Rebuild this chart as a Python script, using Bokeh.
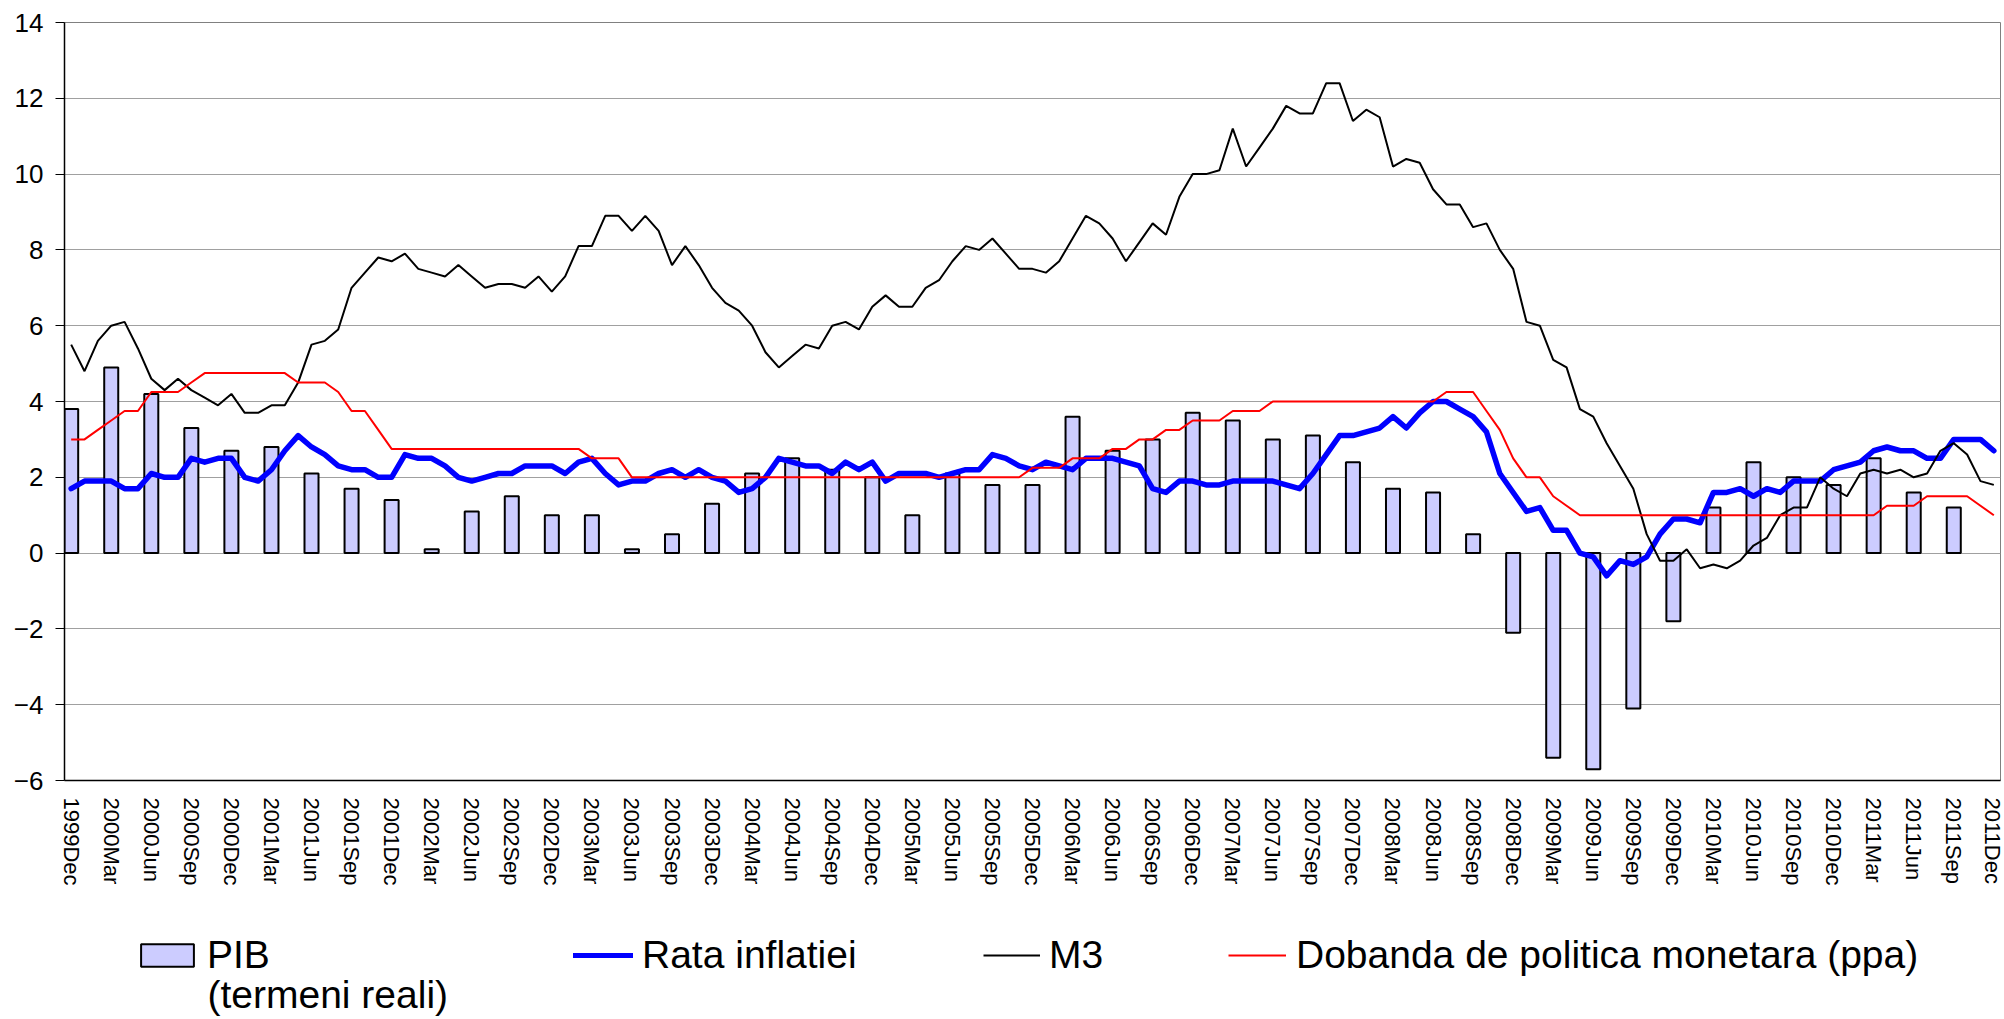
import numpy as np
from bokeh.plotting import figure
from bokeh.layouts import column
from bokeh.models import Range1d, FixedTicker, Legend, LegendItem, Label, ColumnDataSource
from bokeh.embed import file_html
from bokeh.resources import INLINE

# ---------------- data ----------------
tick_labels = [
    "1999Dec",
    "2000Mar", "2000Jun", "2000Sep", "2000Dec",
    "2001Mar", "2001Jun", "2001Sep", "2001Dec",
    "2002Mar", "2002Jun", "2002Sep", "2002Dec",
    "2003Mar", "2003Jun", "2003Sep", "2003Dec",
    "2004Mar", "2004Jun", "2004Sep", "2004Dec",
    "2005Mar", "2005Jun", "2005Sep", "2005Dec",
    "2006Mar", "2006Jun", "2006Sep", "2006Dec",
    "2007Mar", "2007Jun", "2007Sep", "2007Dec",
    "2008Mar", "2008Jun", "2008Sep", "2008Dec",
    "2009Mar", "2009Jun", "2009Sep", "2009Dec",
    "2010Mar", "2010Jun", "2010Sep", "2010Dec",
    "2011Mar", "2011Jun", "2011Sep", "2011Dec",
]

# quarterly real GDP growth (PIB), one value per tick label
pib = [3.8,
       4.9, 4.2, 3.3, 2.7,
       2.8, 2.1, 1.7, 1.4,
       0.1, 1.1, 1.5, 1.0,
       1.0, 0.1, 0.5, 1.3,
       2.1, 2.5, 2.2, 2.0,
       1.0, 2.1, 1.8, 1.8,
       3.6, 2.7, 3.0, 3.7,
       3.5, 3.0, 3.1, 2.4,
       1.7, 1.6, 0.5, -2.1,
       -5.4, -5.7, -4.1, -1.8,
       1.2, 2.4, 2.0, 1.8,
       2.5, 1.6, 1.2, float("nan")]

# monthly series, 1999Dec .. 2011Dec (145 months)
inflatie = [1.7,
    1.9, 1.9, 1.9, 1.7, 1.7, 2.1, 2.0, 2.0, 2.5, 2.4, 2.5, 2.5,
    2.0, 1.9, 2.2, 2.7, 3.1, 2.8, 2.6, 2.3, 2.2, 2.2, 2.0, 2.0,
    2.6, 2.5, 2.5, 2.3, 2.0, 1.9, 2.0, 2.1, 2.1, 2.3, 2.3, 2.3,
    2.1, 2.4, 2.5, 2.1, 1.8, 1.9, 1.9, 2.1, 2.2, 2.0, 2.2, 2.0,
    1.9, 1.6, 1.7, 2.0, 2.5, 2.4, 2.3, 2.3, 2.1, 2.4, 2.2, 2.4,
    1.9, 2.1, 2.1, 2.1, 2.0, 2.1, 2.2, 2.2, 2.6, 2.5, 2.3, 2.2,
    2.4, 2.3, 2.2, 2.5, 2.5, 2.5, 2.4, 2.3, 1.7, 1.6, 1.9, 1.9,
    1.8, 1.8, 1.9, 1.9, 1.9, 1.9, 1.8, 1.7, 2.1, 2.6, 3.1, 3.1,
    3.2, 3.3, 3.6, 3.3, 3.7, 4.0, 4.0, 3.8, 3.6, 3.2, 2.1, 1.6,
    1.1, 1.2, 0.6, 0.6, 0.0, -0.1, -0.6, -0.2, -0.3, -0.1, 0.5, 0.9,
    0.9, 0.8, 1.6, 1.6, 1.7, 1.5, 1.7, 1.6, 1.9, 1.9, 1.9, 2.2,
    2.3, 2.4, 2.7, 2.8, 2.7, 2.7, 2.5, 2.5, 3.0, 3.0, 3.0, 2.7]

m3 = [5.5,
    4.8, 5.6, 6.0, 6.1, 5.4, 4.6, 4.3, 4.6, 4.3, 4.1, 3.9, 4.2,
    3.7, 3.7, 3.9, 3.9, 4.5, 5.5, 5.6, 5.9, 7.0, 7.4, 7.8, 7.7,
    7.9, 7.5, 7.4, 7.3, 7.6, 7.3, 7.0, 7.1, 7.1, 7.0, 7.3, 6.9,
    7.3, 8.1, 8.1, 8.9, 8.9, 8.5, 8.9, 8.5, 7.6, 8.1, 7.6, 7.0,
    6.6, 6.4, 6.0, 5.3, 4.9, 5.2, 5.5, 5.4, 6.0, 6.1, 5.9, 6.5,
    6.8, 6.5, 6.5, 7.0, 7.2, 7.7, 8.1, 8.0, 8.3, 7.9, 7.5, 7.5,
    7.4, 7.7, 8.3, 8.9, 8.7, 8.3, 7.7, 8.2, 8.7, 8.4, 9.4, 10.0,
    10.0, 10.1, 11.2, 10.2, 10.7, 11.2, 11.8, 11.6, 11.6, 12.4, 12.4, 11.4,
    11.7, 11.5, 10.2, 10.4, 10.3, 9.6, 9.2, 9.2, 8.6, 8.7, 8.0, 7.5,
    6.1, 6.0, 5.1, 4.9, 3.8, 3.6, 2.9, 2.3, 1.7, 0.5, -0.2, -0.2,
    0.1, -0.4, -0.3, -0.4, -0.2, 0.2, 0.4, 1.0, 1.2, 1.2, 2.0, 1.7,
    1.5, 2.1, 2.2, 2.1, 2.2, 2.0, 2.1, 2.7, 2.9, 2.6, 1.9, 1.8]

dobanda = [3.0,
    3.0, 3.25, 3.5, 3.75, 3.75, 4.25, 4.25, 4.25, 4.5, 4.75, 4.75, 4.75,
    4.75, 4.75, 4.75, 4.75, 4.5, 4.5, 4.5, 4.25, 3.75, 3.75, 3.25, 2.75,
    2.75, 2.75, 2.75, 2.75, 2.75, 2.75, 2.75, 2.75, 2.75, 2.75, 2.75, 2.75,
    2.75, 2.75, 2.5, 2.5, 2.5, 2.0, 2.0, 2.0, 2.0, 2.0, 2.0, 2.0,
    2.0, 2.0, 2.0, 2.0, 2.0, 2.0, 2.0, 2.0, 2.0, 2.0, 2.0, 2.0,
    2.0, 2.0, 2.0, 2.0, 2.0, 2.0, 2.0, 2.0, 2.0, 2.0, 2.0, 2.25,
    2.25, 2.25, 2.5, 2.5, 2.5, 2.75, 2.75, 3.0, 3.0, 3.25, 3.25, 3.5,
    3.5, 3.5, 3.75, 3.75, 3.75, 4.0, 4.0, 4.0, 4.0, 4.0, 4.0, 4.0,
    4.0, 4.0, 4.0, 4.0, 4.0, 4.0, 4.25, 4.25, 4.25, 3.75, 3.25, 2.5,
    2.0, 2.0, 1.5, 1.25, 1.0, 1.0, 1.0, 1.0, 1.0, 1.0, 1.0, 1.0,
    1.0, 1.0, 1.0, 1.0, 1.0, 1.0, 1.0, 1.0, 1.0, 1.0, 1.0, 1.0,
    1.0, 1.0, 1.0, 1.25, 1.25, 1.25, 1.5, 1.5, 1.5, 1.5, 1.25, 1.0]

y_ticks = [-6, -4, -2, 0, 2, 4, 6, 8, 10, 12, 14]

# ---------------- styles ----------------
FONT = "Liberation Sans"
BAR_FILL = "#CCCCFF"
C_INFL = "#0000FF"
C_M3 = "black"
C_DOB = "#FF0000"

W = 2004
H_MAIN = 895
H_LEG = 123
FRAME_LEFT = 64

# ---------------- main chart ----------------
n_months = len(m3)
months = np.arange(n_months)
quarter_pos = np.arange(len(tick_labels)) * 3

p = figure(width=W, height=H_MAIN,
           x_range=Range1d(-0.5, n_months - 0.5), y_range=Range1d(-6, 14),
           output_backend="svg", toolbar_location=None,
           min_border_left=FRAME_LEFT, min_border_right=4,
           min_border_top=22, min_border_bottom=H_MAIN - 780)
p.background_fill_color = "white"
p.border_fill_color = "white"
p.outline_line_color = "#808080"
p.outline_line_width = 1

p.xgrid.visible = False
p.ygrid.ticker = FixedTicker(ticks=y_ticks)
p.ygrid.grid_line_color = "#A0A0A0"
p.ygrid.grid_line_width = 1

p.yaxis.ticker = FixedTicker(ticks=y_ticks)
p.yaxis.axis_line_color = "black"
p.yaxis.axis_line_width = 1.5
p.yaxis.major_tick_line_color = "black"
p.yaxis.major_tick_out = 9
p.yaxis.major_tick_in = 0
p.yaxis.minor_tick_line_color = None
p.yaxis.major_label_text_font = FONT
p.yaxis.major_label_text_font_size = "26px"
p.yaxis.major_label_text_color = "black"
p.yaxis.major_label_standoff = 12

p.xaxis.ticker = FixedTicker(ticks=list(quarter_pos))
p.xaxis.major_label_overrides = {int(q): lab for q, lab in zip(quarter_pos, tick_labels)}
p.xaxis.major_label_orientation = "vertical"
p.xaxis.axis_line_color = "black"
p.xaxis.axis_line_width = 1.5
p.xaxis.major_tick_line_color = None
p.xaxis.major_tick_out = 0
p.xaxis.major_tick_in = 0
p.xaxis.minor_tick_line_color = None
p.xaxis.major_label_text_font = FONT
p.xaxis.major_label_text_font_size = "22px"
p.xaxis.major_label_text_color = "black"
p.xaxis.major_label_standoff = 17

bar_src = ColumnDataSource(dict(x=quarter_pos, top=pib))
p.vbar(x="x", top="top", bottom=0, width=1.05, source=bar_src,
       fill_color=BAR_FILL, line_color="black", line_width=2)

line_src = ColumnDataSource(dict(x=months, infl=inflatie, m3=m3, dob=dobanda))
p.line("x", "infl", source=line_src, line_color=C_INFL, line_width=5.5,
       line_join="round", line_cap="round")
p.line("x", "m3", source=line_src, line_color=C_M3, line_width=2)
p.line("x", "dob", source=line_src, line_color=C_DOB, line_width=2)

# ---------------- legend strip ----------------
q = figure(width=W, height=H_LEG, x_range=Range1d(0, 1), y_range=Range1d(0, 1),
           output_backend="svg", toolbar_location=None,
           min_border_left=0, min_border_right=0, min_border_top=0, min_border_bottom=0)
q.axis.visible = False
q.grid.visible = False
q.outline_line_color = None
q.background_fill_color = "white"
q.border_fill_color = "white"

# legend-only renderers (a single undefined point, so nothing is drawn in the strip)
swatch = ColumnDataSource(dict(x=[float("nan")], y=[float("nan")]))
lg_pib = q.vbar(x="x", top="y", width=1, source=swatch,
                fill_color=BAR_FILL, line_color="black", line_width=2)
lg_infl = q.line("x", "y", source=swatch, line_color=C_INFL, line_width=5, line_cap="round")
lg_m3 = q.line("x", "y", source=swatch, line_color=C_M3, line_width=2)
lg_dob = q.line("x", "y", source=swatch, line_color=C_DOB, line_width=2)

def make_legend(label, renderer, x, y, gw, gh, standoff):
    leg = Legend(items=[LegendItem(label=label, renderers=[renderer])],
                 location=(x - FRAME_LEFT, y), orientation="horizontal",
                 padding=0, margin=0, spacing=0,
                 border_line_alpha=0, background_fill_alpha=0,
                 glyph_width=gw, glyph_height=gh, label_standoff=standoff,
                 label_text_font=FONT, label_text_font_size="39px",
                 label_text_color="black", label_height=44)
    q.add_layout(leg)

make_legend("PIB", lg_pib, 134, 41, 66, 28, 7)
make_legend("Rata inflatiei", lg_infl, 573, 41, 60, 44, 9)
make_legend("M3", lg_m3, 983, 41, 57, 44, 9)
make_legend("Dobanda de politica monetara (ppa)", lg_dob, 1228, 41, 58, 44, 10)

q.add_layout(Label(x=207 - FRAME_LEFT, y=24, x_units="screen", y_units="screen",
                   text="(termeni reali)", text_font=FONT,
                   text_font_size="39px", text_color="black",
                   text_baseline="middle", text_align="left"))

open("out.html", "w").write(file_html(column(p, q, spacing=0), INLINE))
